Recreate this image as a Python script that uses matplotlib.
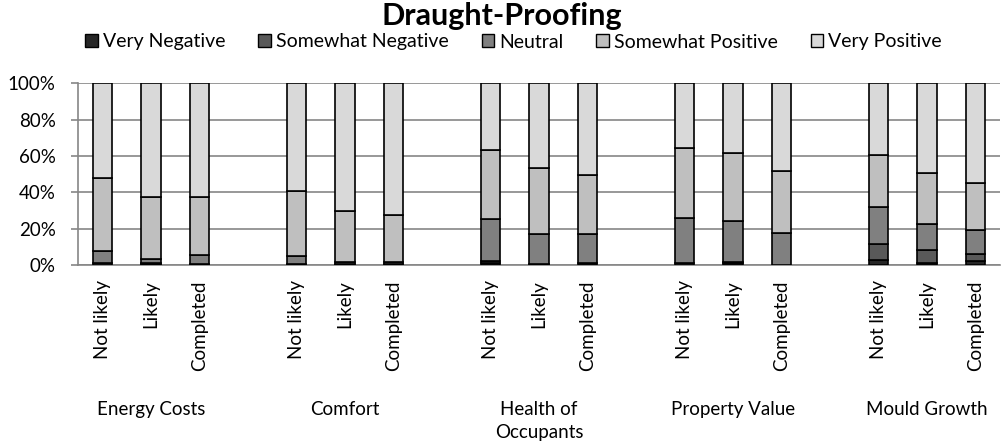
import numpy as np
import matplotlib
matplotlib.use("Agg")
import matplotlib.pyplot as plt
from matplotlib.patches import Patch

plt.rcParams['font.family'] = ['Lato', 'DejaVu Sans']

groups = ["Energy Costs", "Comfort", "Health of\nOccupants", "Property Value", "Mould Growth"]
stages = ["Not likely", "Likely", "Completed"]
series = ["Very Negative", "Somewhat Negative", "Neutral", "Somewhat Positive", "Very Positive"]
colors = ["#262626", "#595959", "#808080", "#bfbfbf", "#d9d9d9"]

# percentages per bar, in order: group x stage
very_negative = [0.0, 0.5, 0.0,  0.0, 0.3, 0.3,  1.0, 0.0, 1.0,  0.0, 1.0, 0.0,  2.8, 0.9, 2.2]
somewhat_negative = [0.9, 0.8, 0.4,  0.4, 0.3, 0.3,  1.0, 0.5, 0.3,  0.9, 0.5, 0.0,  8.6, 7.2, 4.0]
neutral = [6.8, 1.8, 5.1,  4.7, 0.9, 1.2,  23.3, 16.4, 15.6,  25.2, 22.9, 17.6,  20.3, 14.7, 13.1]
somewhat_positive = [40.4, 34.3, 32.1,  35.5, 28.2, 25.5,  37.8, 36.5, 32.5,  38.3, 37.3, 34.2,  28.7, 27.7, 25.7]
very_positive = [51.9, 62.6, 62.4,  59.4, 70.3, 72.7,  36.9, 46.6, 50.6,  35.6, 38.3, 48.2,  39.6, 49.5, 55.0]

values = [very_negative, somewhat_negative, neutral, somewhat_positive, very_positive]

# positions: 3 bars per group, one empty slot between groups
pos = []
for g in range(len(groups)):
    for s in range(len(stages)):
        pos.append(g * 4 + s)
pos = np.array(pos)

fig = plt.figure(figsize=(10.03, 4.46), dpi=100)
ax = fig.add_axes([0.0778, 0.406, 0.919, 0.407])

bottom = np.zeros(len(pos))
for name, vals, c in zip(series, values, colors):
    vals = np.array(vals)
    ax.bar(pos, vals, width=0.4, bottom=bottom, color=c, edgecolor="black",
           linewidth=1.2, zorder=3, label=name)
    bottom += vals

fs = 13.5
ax.set_xlim(-0.5, 18.5)
ax.set_ylim(0, 100)
ax.set_yticks(np.arange(0, 101, 20))
ax.set_yticklabels([f"{v}%" for v in range(0, 101, 20)], fontsize=fs)
ax.yaxis.grid(True, color="#868686", lw=1.2, zorder=0)
ax.tick_params(axis="y", length=5, color="#868686", width=1.2, pad=11)
ax.set_xticks(pos)
ax.set_xticklabels(stages * len(groups), rotation=90, fontsize=fs)
ax.tick_params(axis="x", length=0, pad=11)
for sp in ["top", "right"]:
    ax.spines[sp].set_visible(False)
for sp in ["left", "bottom"]:
    ax.spines[sp].set_color("#868686")
    ax.spines[sp].set_linewidth(1.2)

for g, name in enumerate(groups):
    ax.text(g * 4 + 1, -0.75, name, transform=ax.get_xaxis_transform(),
            ha="center", va="top", fontsize=fs, linespacing=1.45)

fig.text(0.5, 1 - 25 / 446, "Draught-Proofing", fontsize=22, fontweight="bold",
         ha="center", va="baseline")

handles = [Patch(facecolor=c, edgecolor="black", linewidth=1) for c in colors]
fig.legend(handles, series, loc="center", bbox_to_anchor=(0.512, 1 - 42 / 446), ncol=5,
           frameon=False, fontsize=14, handlelength=0.65, handleheight=0.65,
           handletextpad=0.25, columnspacing=1.7, borderaxespad=0)

fig.savefig("out.png", dpi=100)
